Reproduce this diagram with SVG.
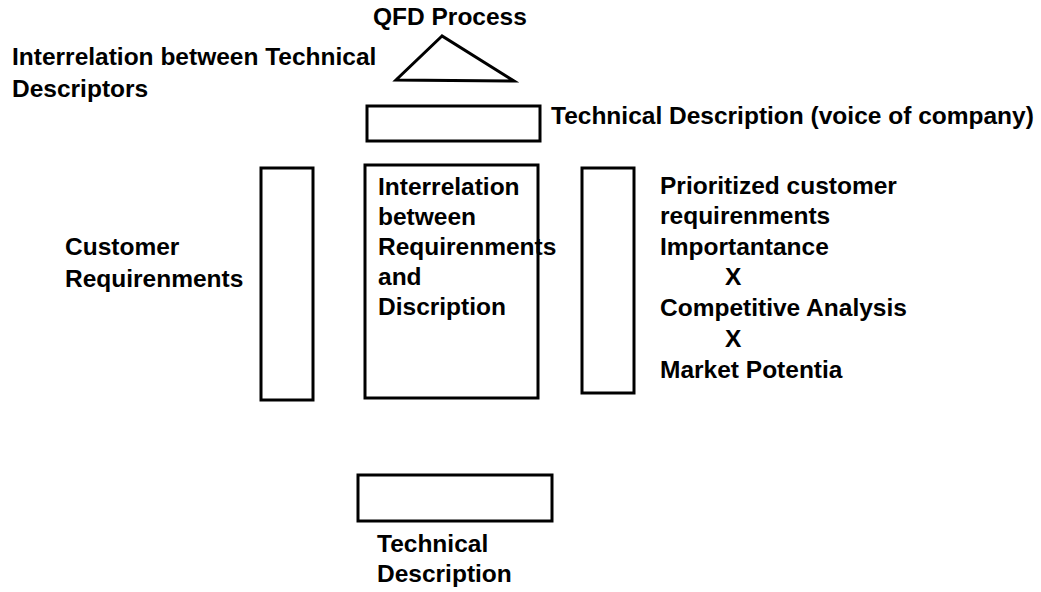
<svg xmlns="http://www.w3.org/2000/svg" width="1041" height="592" viewBox="0 0 1041 592">
<style>
.t{font-family:"Liberation Sans",Arial,sans-serif;font-weight:bold;font-size:24.5px;fill:#000}
.b{fill:#fff;stroke:#000;stroke-width:3}
</style>
<rect width="1041" height="592" fill="#fff"/>
<g id="title">
<text class="t" x="373" y="25">QFD Process</text>
</g>
<g id="roof">
<polygon class="b" points="442,36 396,80 514,81"/>
<text class="t" x="12" y="65">Interrelation between Technical</text>
<text class="t" x="12" y="97">Descriptors</text>
</g>
<g id="technical-top">
<rect class="b" x="367" y="106" width="173" height="35"/>
<text class="t" x="551" y="124">Technical Description (voice of company)</text>
</g>
<g id="customer-req">
<rect class="b" x="261" y="168" width="52" height="232"/>
<text class="t" x="65" y="255">Customer</text>
<text class="t" x="65" y="287">Requirenments</text>
</g>
<g id="matrix">
<rect class="b" x="365" y="165" width="173" height="233"/>
<text class="t" x="378" y="195">Interrelation</text>
<text class="t" x="378" y="225">between</text>
<text class="t" x="378" y="255">Requirenments</text>
<text class="t" x="378" y="285">and</text>
<text class="t" x="378" y="315">Discription</text>
</g>
<g id="prioritized">
<rect class="b" x="582" y="168" width="52" height="225"/>
<text class="t" x="660" y="194">Prioritized customer</text>
<text class="t" x="660" y="224">requirenments</text>
<text class="t" x="660" y="255">Importantance</text>
<text class="t" x="725" y="285">X</text>
<text class="t" x="660" y="316">Competitive Analysis</text>
<text class="t" x="725" y="347">X</text>
<text class="t" x="660" y="378">Market Potentia</text>
</g>
<g id="technical-bottom">
<rect class="b" x="358" y="475" width="194" height="46"/>
<text class="t" x="377" y="552">Technical</text>
<text class="t" x="377" y="582">Description</text>
</g>
<g id="connectors"></g>
</svg>
